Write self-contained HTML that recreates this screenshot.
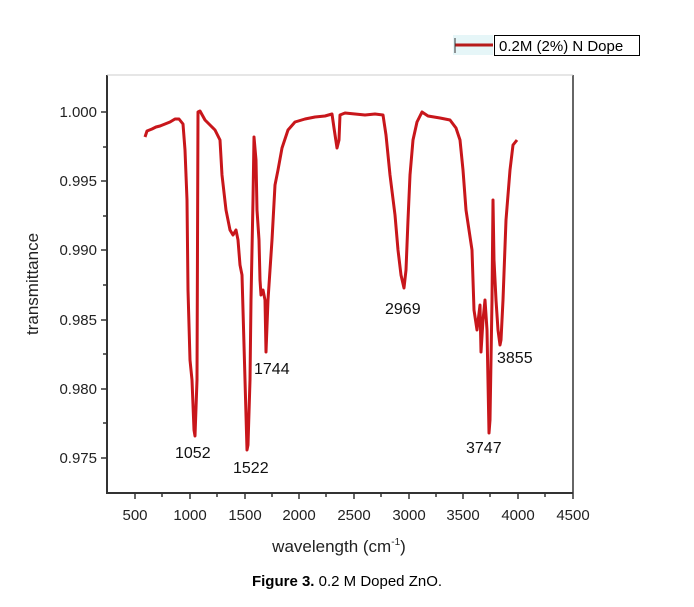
<!DOCTYPE html>
<html><head><meta charset="utf-8"><style>
html,body{margin:0;padding:0;background:#fff;}
svg{display:block;font-family:"Liberation Sans",sans-serif;}
</style></head><body>
<svg width="694" height="607" viewBox="0 0 694 607">
<rect width="694" height="607" fill="#fff"/>
<!-- legend -->
<rect x="453" y="35" width="40" height="20" fill="#e6f6f8"/>
<line x1="455" y1="45" x2="493" y2="45" stroke="#b71c1c" stroke-width="3"/>
<line x1="455" y1="38" x2="455" y2="53" stroke="#333" stroke-width="1"/>
<rect x="494.5" y="35.5" width="145" height="20" fill="#fff" stroke="#000" stroke-width="1"/>
<text x="499" y="51" font-size="15" fill="#000">0.2M (2%) N Dope</text>
<!-- axes -->
<line x1="107" y1="75" x2="107" y2="493" stroke="#333" stroke-width="2"/>
<line x1="106" y1="493" x2="573" y2="493" stroke="#333" stroke-width="2"/>
<line x1="573" y1="75" x2="573" y2="493" stroke="#333" stroke-width="1.5"/>
<line x1="107" y1="75" x2="573" y2="75" stroke="#ccc" stroke-width="1"/>
<g stroke="#333" stroke-width="1.5">
<line x1="101" y1="112" x2="107" y2="112"/><line x1="103" y1="147" x2="107" y2="147"/>
<line x1="101" y1="181" x2="107" y2="181"/><line x1="103" y1="216" x2="107" y2="216"/>
<line x1="101" y1="250" x2="107" y2="250"/><line x1="103" y1="285" x2="107" y2="285"/>
<line x1="101" y1="320" x2="107" y2="320"/><line x1="103" y1="354" x2="107" y2="354"/>
<line x1="101" y1="389" x2="107" y2="389"/><line x1="103" y1="423" x2="107" y2="423"/>
<line x1="101" y1="458" x2="107" y2="458"/>
<line x1="135" y1="493" x2="135" y2="499"/><line x1="162" y1="493" x2="162" y2="497"/>
<line x1="190" y1="493" x2="190" y2="499"/><line x1="217" y1="493" x2="217" y2="497"/>
<line x1="245" y1="493" x2="245" y2="499"/><line x1="272" y1="493" x2="272" y2="497"/>
<line x1="299" y1="493" x2="299" y2="499"/><line x1="326" y1="493" x2="326" y2="497"/>
<line x1="354" y1="493" x2="354" y2="499"/><line x1="381" y1="493" x2="381" y2="497"/>
<line x1="409" y1="493" x2="409" y2="499"/><line x1="436" y1="493" x2="436" y2="497"/>
<line x1="463" y1="493" x2="463" y2="499"/><line x1="490" y1="493" x2="490" y2="497"/>
<line x1="518" y1="493" x2="518" y2="499"/><line x1="545" y1="493" x2="545" y2="497"/>
<line x1="573" y1="493" x2="573" y2="499"/>
</g>
<g font-size="15" fill="#222" text-anchor="end">
<text x="97" y="117">1.000</text><text x="97" y="186">0.995</text>
<text x="97" y="255">0.990</text><text x="97" y="325">0.985</text>
<text x="97" y="394">0.980</text><text x="97" y="463">0.975</text>
</g>
<g font-size="15" fill="#222" text-anchor="middle">
<text x="135" y="520">500</text><text x="190" y="520">1000</text><text x="245" y="520">1500</text>
<text x="299" y="520">2000</text><text x="354" y="520">2500</text><text x="409" y="520">3000</text>
<text x="463" y="520">3500</text><text x="518" y="520">4000</text><text x="573" y="520">4500</text>
</g>
<text x="339" y="552" font-size="17" fill="#222" text-anchor="middle">wavelength (cm<tspan font-size="10" dy="-7">-1</tspan><tspan dy="7">)</tspan></text>
<text transform="translate(38,284) rotate(-90)" font-size="17" fill="#222" text-anchor="middle">transmittance</text>
<text x="347" y="586" font-size="15" fill="#000" text-anchor="middle"><tspan font-weight="bold">Figure 3.</tspan> 0.2 M Doped ZnO.</text>
<!-- curve -->
<polyline fill="none" stroke="#c8161b" stroke-width="3" stroke-linejoin="round" points="
145,137 147,131 152,129 156,127 160,126 165,124 170,122 175,119 179,119 183,124 185,150 187,200 188,290 190,360 192,380 194,430 195,436 197,380 198,112 200,111 205,120 210,125 215,130 220,140 222,175 226,210 230,230 233,235 236,230 238,240 240,265 242,275 243,310 245,380 247,450 248,445 250,380 251,300 253,200 254,137 256,160 257,210 259,240 260,280 261,295 263,290 265,300 266,352 268,300 270,270 272,240 275,185 278,170 282,148 288,130 295,122 305,119 315,117 325,116 332,114 334,128 337,148 339,140 340,115 345,113 355,114 365,115 375,114 383,115 386,135 390,175 395,215 398,250 401,275 404,288 406,270 408,220 410,175 413,140 417,122 422,112 428,116 440,118 450,120 456,128 460,140 463,170 466,210 469,230 472,250 474,310 477,330 480,305 481,352 483,320 485,300 487,330 489,433 490,420 492,300 493,200 494,260 496,300 498,330 500,345 501,340 503,300 506,220 510,170 513,145 517,140"/>
<g font-size="16" fill="#111">
<text x="175" y="458">1052</text>
<text x="233" y="473">1522</text>
<text x="254" y="374">1744</text>
<text x="385" y="314">2969</text>
<text x="466" y="453">3747</text>
<text x="497" y="363">3855</text>
</g>
</svg>
</body></html>
